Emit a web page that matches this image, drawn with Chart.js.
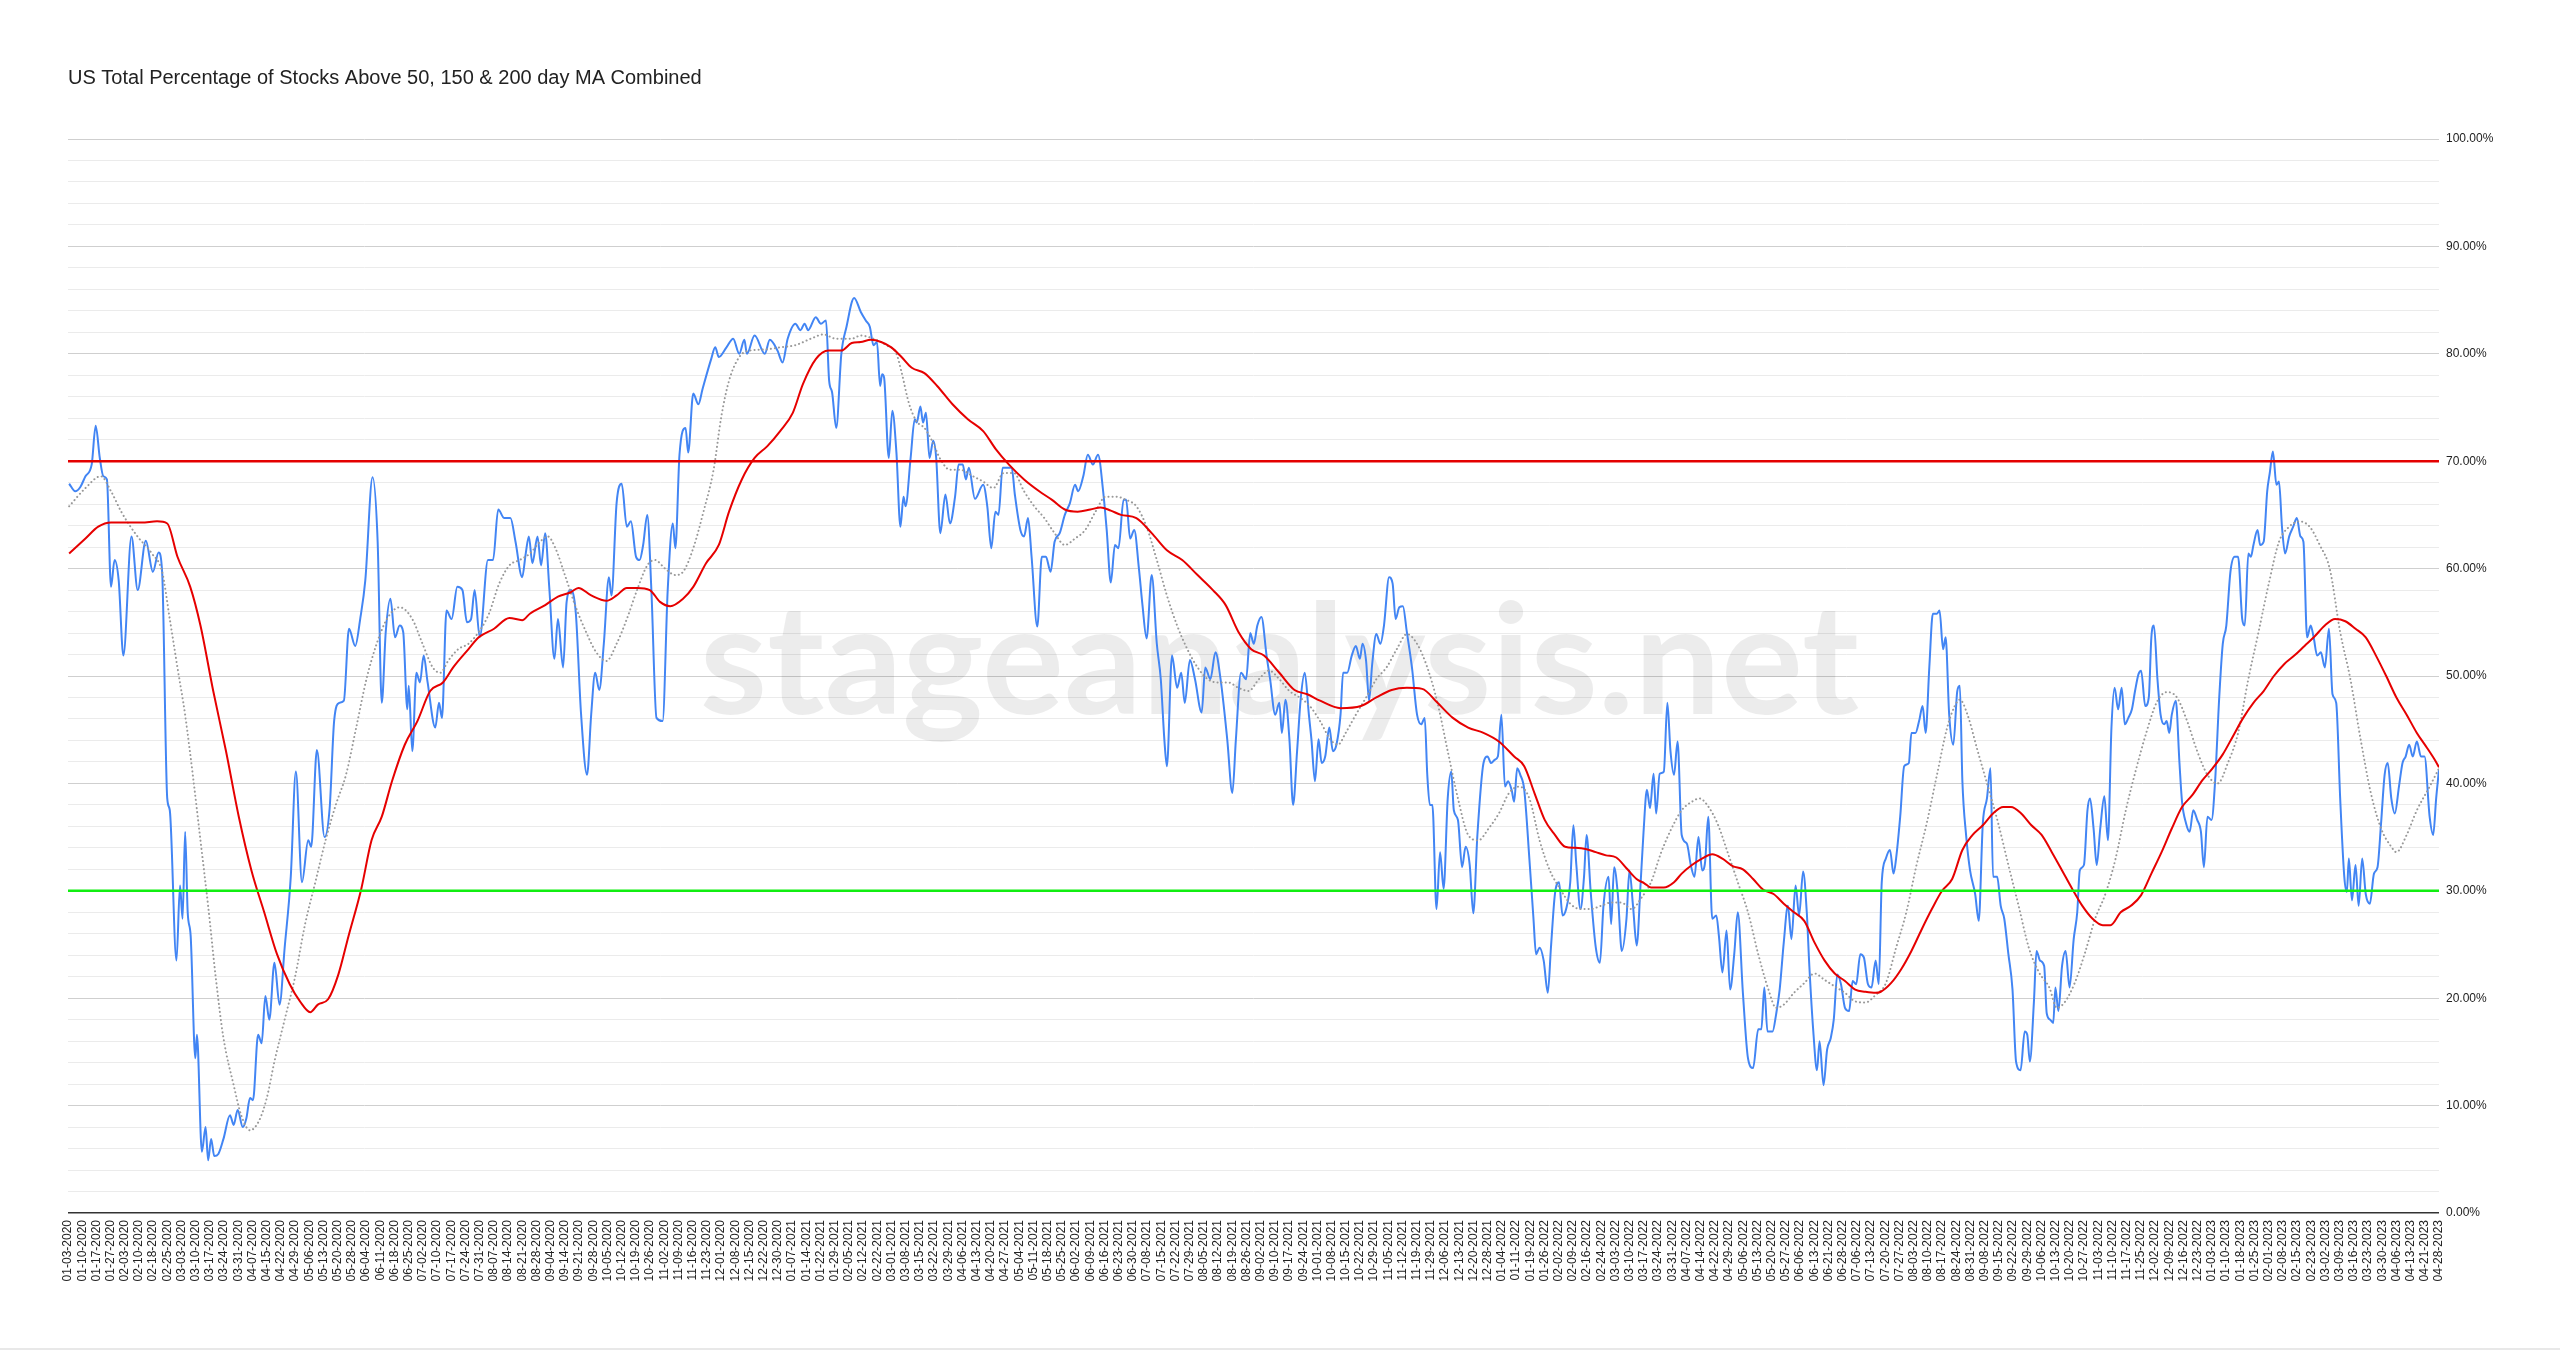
<!DOCTYPE html>
<html>
<head>
<meta charset="utf-8">
<script src="https://cdn.jsdelivr.net/npm/chart.js@4.4.0/dist/chart.umd.min.js"></script>
<style>
  body { margin: 0; background: #fff; }
  #wrap { position: relative; width: 2560px; height: 1350px; }
  #foot { position: absolute; left: 0; right: 0; bottom: 0; height: 2px; background: #e8e8e8; }
</style>
</head>
<body>
<div id="wrap">
  <canvas id="chart" width="2560" height="1350"></canvas>
  <div id="foot"></div>
</div>
<script>
// weekly axis labels (one per 5 trading days)
const weekLabels = [
  "01-03-2020","01-10-2020","01-17-2020","01-27-2020","02-03-2020","02-10-2020","02-18-2020","02-25-2020","03-03-2020","03-10-2020",
  "03-17-2020","03-24-2020","03-31-2020","04-07-2020","04-15-2020","04-22-2020","04-29-2020","05-06-2020","05-13-2020","05-20-2020",
  "05-28-2020","06-04-2020","06-11-2020","06-18-2020","06-25-2020","07-02-2020","07-10-2020","07-17-2020","07-24-2020","07-31-2020",
  "08-07-2020","08-14-2020","08-21-2020","08-28-2020","09-04-2020","09-14-2020","09-21-2020","09-28-2020","10-05-2020","10-12-2020",
  "10-19-2020","10-26-2020","11-02-2020","11-09-2020","11-16-2020","11-23-2020","12-01-2020","12-08-2020","12-15-2020","12-22-2020",
  "12-30-2020","01-07-2021","01-14-2021","01-22-2021","01-29-2021","02-05-2021","02-12-2021","02-22-2021","03-01-2021","03-08-2021",
  "03-15-2021","03-22-2021","03-29-2021","04-06-2021","04-13-2021","04-20-2021","04-27-2021","05-04-2021","05-11-2021","05-18-2021",
  "05-25-2021","06-02-2021","06-09-2021","06-16-2021","06-23-2021","06-30-2021","07-08-2021","07-15-2021","07-22-2021","07-29-2021",
  "08-05-2021","08-12-2021","08-19-2021","08-26-2021","09-02-2021","09-10-2021","09-17-2021","09-24-2021","10-01-2021","10-08-2021",
  "10-15-2021","10-22-2021","10-29-2021","11-05-2021","11-12-2021","11-19-2021","11-29-2021","12-06-2021","12-13-2021","12-20-2021",
  "12-28-2021","01-04-2022","01-11-2022","01-19-2022","01-26-2022","02-02-2022","02-09-2022","02-16-2022","02-24-2022","03-03-2022",
  "03-10-2022","03-17-2022","03-24-2022","03-31-2022","04-07-2022","04-14-2022","04-22-2022","04-29-2022","05-06-2022","05-13-2022",
  "05-20-2022","05-27-2022","06-06-2022","06-13-2022","06-21-2022","06-28-2022","07-06-2022","07-13-2022","07-20-2022","07-27-2022",
  "08-03-2022","08-10-2022","08-17-2022","08-24-2022","08-31-2022","09-08-2022","09-15-2022","09-22-2022","09-29-2022","10-06-2022",
  "10-13-2022","10-20-2022","10-27-2022","11-03-2022","11-10-2022","11-17-2022","11-25-2022","12-02-2022","12-09-2022","12-16-2022",
  "12-23-2022","01-03-2023","01-10-2023","01-18-2023","01-25-2023","02-01-2023","02-08-2023","02-15-2023","02-23-2023","03-02-2023",
  "03-09-2023","03-16-2023","03-23-2023","03-30-2023","04-06-2023","04-13-2023","04-21-2023","04-28-2023"
];

// [week position, % of stocks]
const pctAbove = [
  [0.08,67.9],[0.51,67.2],[0.87,67.6],[1.23,68.6],[1.67,69.7],[1.95,73.3],[2.24,70.3],[2.49,68.6],[2.74,68.3],[3.03,58.3],
  [3.28,60.8],[3.57,58.9],[3.9,51.9],[4.47,63.0],[4.91,58.0],[5.48,62.6],[5.98,59.7],[6.38,61.5],[6.63,59.7],[6.99,38.6],
  [7.17,37.5],[7.64,23.5],[7.89,30.5],[8.07,27.4],[8.25,35.5],[8.43,28.0],[8.64,25.8],[8.97,14.4],[9.08,16.6],[9.43,5.7],
  [9.69,8.0],[9.87,4.9],[10.08,6.9],[10.3,5.3],[10.59,5.5],[10.95,6.9],[11.41,9.1],[11.67,8.2],[11.95,9.6],[12.31,8.0],
  [12.56,8.8],[12.82,10.7],[13.03,10.5],[13.39,16.6],[13.64,15.8],[13.9,20.2],[14.18,18.0],[14.54,23.3],[14.9,19.4],[15.26,24.7],
  [15.69,31.3],[16.05,41.1],[16.48,30.8],[16.92,34.7],[17.13,34.1],[17.53,43.1],[18.07,35.0],[18.43,37.7],[18.75,45.9],[19.11,47.5],
  [19.43,47.7],[19.79,54.4],[20.23,52.8],[20.58,55.3],[20.94,58.9],[21.45,68.5],[21.81,62.5],[22.1,47.5],[22.38,54.1],[22.71,57.2],
  [23.03,53.6],[23.36,54.7],[23.61,54.1],[23.9,46.9],[24.0,49.1],[24.25,43.0],[24.54,50.3],[24.79,49.4],[25.05,51.9],[25.33,49.4],
  [25.87,45.2],[26.13,47.5],[26.34,46.1],[26.66,56.1],[27.02,55.3],[27.42,58.3],[27.78,58.0],[28.1,55.0],[28.39,55.3],[28.64,58.0],
  [29.0,53.6],[29.58,60.8],[29.94,60.8],[30.3,65.5],[30.73,64.7],[31.16,64.7],[31.52,62.5],[31.99,59.2],[32.24,61.4],[32.46,63.0],
  [32.71,60.5],[33.07,63.0],[33.32,60.3],[33.61,63.3],[33.9,58.2],[34.26,51.6],[34.51,55.3],[34.87,50.8],[35.12,56.9],[35.41,58.0],
  [35.77,55.8],[36.13,46.6],[36.56,40.8],[36.85,46.4],[37.13,50.3],[37.42,48.7],[37.74,53.0],[38.1,59.2],[38.28,57.5],[38.64,66.1],
  [39.0,67.9],[39.36,63.9],[39.65,64.4],[40.01,61.1],[40.26,60.8],[40.51,62.2],[40.8,65.0],[41.09,58.0],[41.45,46.1],[41.88,45.8],
  [42.24,58.0],[42.6,64.2],[42.78,61.9],[43.07,70.6],[43.5,73.1],[43.68,70.8],[44.04,76.3],[44.4,75.3],[44.69,76.7],[45.3,79.5],
  [45.59,80.6],[45.84,79.7],[46.38,80.6],[46.85,81.4],[47.28,80.0],[47.64,81.3],[47.82,80.0],[48.36,81.7],[49.08,80.0],[49.43,81.3],
  [49.97,80.3],[50.33,79.2],[50.69,81.4],[51.23,82.8],[51.59,82.2],[51.88,82.8],[52.13,82.2],[52.67,83.4],[53.03,82.8],[53.39,83.1],
  [53.61,77.5],[53.82,76.4],[54.11,73.1],[54.47,80.0],[54.83,82.5],[55.37,85.2],[55.84,83.9],[56.19,83.1],[56.48,82.5],[56.73,80.8],
  [56.98,81.1],[57.2,77.0],[57.34,78.1],[57.48,77.8],[57.81,70.3],[58.06,74.7],[58.35,70.8],[58.63,63.9],[58.85,66.7],[58.99,65.8],
  [59.35,70.3],[59.64,73.9],[59.78,73.6],[60.04,75.1],[60.22,73.6],[60.43,74.5],[60.68,70.3],[60.94,71.9],[61.15,70.3],[61.44,63.3],
  [61.8,66.9],[62.12,64.2],[62.48,66.7],[62.73,69.7],[63.02,69.7],[63.24,68.3],[63.45,69.4],[63.88,66.5],[64.46,67.8],[64.75,65.8],
  [65.03,61.9],[65.32,65.3],[65.54,65.0],[65.83,69.4],[66.19,69.4],[66.47,69.4],[66.69,66.9],[67.08,63.6],[67.34,63.0],[67.62,64.7],
  [67.87,61.1],[68.27,54.6],[68.59,61.1],[68.88,61.1],[69.21,59.7],[69.49,62.5],[69.85,63.3],[70.21,65.0],[70.57,66.1],[70.93,67.8],
  [71.15,67.2],[71.51,68.6],[71.83,70.6],[72.19,69.7],[72.55,70.6],[72.91,67.2],[73.16,63.6],[73.45,58.7],[73.74,62.2],[73.99,61.9],
  [74.35,66.4],[74.53,66.4],[74.81,62.8],[75.1,63.6],[75.43,60.0],[75.68,56.6],[75.97,53.5],[76.33,59.4],[76.69,53.0],[76.97,49.7],
  [77.22,44.1],[77.4,41.6],[77.76,51.9],[78.12,48.9],[78.41,50.3],[78.66,47.5],[79.02,51.5],[79.38,49.7],[79.85,46.6],[80.1,50.8],
  [80.46,49.7],[80.82,52.2],[81.18,49.7],[81.65,44.1],[82.01,39.1],[82.26,44.1],[82.62,50.3],[82.98,49.7],[83.27,54.0],[83.52,53.0],
  [83.77,54.7],[84.06,55.5],[84.42,51.9],[84.67,49.7],[85.03,46.4],[85.32,47.5],[85.5,44.7],[85.75,47.8],[86.03,44.1],[86.29,38.0],
  [86.57,43.0],[86.82,47.8],[87.11,50.3],[87.4,46.4],[87.58,44.1],[87.83,40.2],[88.08,44.1],[88.3,41.9],[88.55,42.5],[88.84,45.2],
  [89.09,43.0],[89.34,43.6],[89.63,46.4],[89.81,50.3],[90.1,50.3],[90.42,51.9],[90.71,52.8],[90.99,51.6],[91.18,53.0],[91.43,51.4],
  [91.64,47.7],[91.86,51.1],[92.15,53.9],[92.44,53.0],[92.69,54.7],[93.05,59.2],[93.3,58.6],[93.51,55.3],[93.77,56.4],[94.02,56.5],
  [94.3,54.1],[94.66,50.8],[95.02,46.4],[95.31,45.5],[95.56,46.1],[95.74,40.8],[95.92,38.0],[96.1,38.0],[96.39,28.3],[96.64,33.6],
  [96.89,30.2],[97.18,38.6],[97.43,41.1],[97.61,37.5],[97.9,36.6],[98.19,32.2],[98.44,34.1],[98.73,32.4],[98.98,27.9],[99.27,35.2],
  [99.7,41.9],[99.98,42.5],[100.24,41.9],[100.49,42.2],[100.71,42.5],[100.96,46.4],[101.21,39.7],[101.43,40.2],[101.68,39.4],[101.86,38.3],
  [102.07,41.4],[102.29,40.8],[102.57,39.4],[102.93,33.0],[103.22,27.4],[103.4,24.1],[103.65,24.7],[103.94,23.5],[104.23,20.5],[104.45,24.7],
  [104.73,29.7],[105.02,30.8],[105.27,27.7],[105.52,28.3],[105.81,30.8],[106.03,36.1],[106.24,32.4],[106.53,28.3],[106.78,31.3],[106.96,35.2],
  [107.25,29.9],[107.61,24.7],[107.9,23.3],[108.15,28.6],[108.51,31.3],[108.69,26.9],[108.9,32.2],[109.16,29.7],[109.44,24.4],[109.77,27.4],
  [109.98,31.9],[110.23,28.6],[110.49,24.9],[110.77,30.8],[110.96,35.2],[111.21,39.4],[111.43,37.7],[111.68,40.9],[111.86,37.2],[112.11,40.9],
  [112.4,41.1],[112.65,47.5],[112.87,43.0],[113.12,40.8],[113.37,43.9],[113.66,35.2],[114.02,34.4],[114.3,32.4],[114.56,31.3],[114.84,35.0],
  [115.1,31.9],[115.31,32.7],[115.53,36.9],[115.81,27.4],[116.1,27.7],[116.28,25.8],[116.53,22.4],[116.82,26.3],[117.07,20.8],[117.36,24.1],
  [117.61,28.0],[117.97,20.5],[118.33,14.4],[118.69,13.5],[119.05,17.1],[119.27,17.1],[119.48,21.0],[119.7,16.9],[120.06,16.9],[120.31,18.5],
  [120.56,20.8],[120.85,25.2],[121.14,28.6],[121.39,25.5],[121.68,30.5],[121.93,27.7],[122.21,31.8],[122.47,28.0],[122.65,23.0],[122.93,16.9],
  [123.19,13.3],[123.37,16.0],[123.65,11.9],[123.9,15.2],[124.16,16.3],[124.37,18.0],[124.62,22.2],[124.88,21.3],[125.16,19.1],[125.45,18.8],
  [125.7,21.6],[125.95,21.3],[126.24,24.1],[126.49,23.8],[126.78,21.3],[127.03,21.0],[127.32,23.5],[127.54,21.3],[127.75,30.8],[128.04,33.0],
  [128.33,33.8],[128.58,31.6],[128.76,33.0],[129.05,36.9],[129.33,41.6],[129.66,41.9],[129.84,44.7],[130.13,44.7],[130.38,45.8],[130.63,47.2],
  [130.84,44.7],[131.1,50.8],[131.35,55.8],[131.64,55.8],[131.82,56.1],[132.07,52.5],[132.25,53.6],[132.5,46.4],[132.79,43.6],[133.07,48.6],
  [133.25,49.1],[133.43,40.2],[133.69,35.2],[133.97,31.9],[134.33,29.7],[134.58,27.2],[134.87,36.3],[135.16,38.6],[135.41,41.4],[135.59,31.3],
  [135.88,31.3],[136.13,28.6],[136.38,27.4],[136.67,24.1],[136.96,20.8],[137.21,14.1],[137.53,13.3],[137.82,16.9],[138.0,16.6],[138.18,14.1],
  [138.47,19.7],[138.65,24.4],[138.9,23.5],[139.19,23.0],[139.37,18.6],[139.62,18.0],[139.83,17.7],[139.98,21.0],[140.19,18.8],[140.45,23.0],
  [140.7,24.4],[140.98,21.0],[141.27,25.5],[141.52,28.0],[141.7,31.9],[141.99,32.4],[142.24,37.5],[142.42,38.6],[142.67,35.8],[142.89,32.4],
  [143.14,35.8],[143.43,38.8],[143.68,34.7],[143.93,45.2],[144.15,48.9],[144.4,46.9],[144.65,48.9],[144.87,45.5],[145.12,46.1],[145.37,46.9],
  [145.59,48.6],[145.84,50.2],[146.02,50.5],[146.31,47.2],[146.56,48.0],[146.74,53.6],[146.92,54.7],[147.17,49.7],[147.39,46.4],[147.64,45.5],
  [147.82,45.8],[148.0,44.7],[148.18,46.4],[148.46,47.7],[148.72,41.9],[148.9,38.3],[149.18,36.3],[149.44,35.5],[149.69,37.5],[149.97,36.6],
  [150.23,35.5],[150.44,32.2],[150.69,36.9],[150.98,36.6],[151.23,40.2],[151.52,48.0],[151.77,53.0],[152.02,54.7],[152.31,59.7],[152.6,61.1],
  [152.85,61.1],[153.14,55.3],[153.32,54.7],[153.57,61.4],[153.75,61.1],[153.93,62.2],[154.22,63.6],[154.4,62.2],[154.65,62.5],[154.9,67.2],
  [155.08,68.9],[155.3,70.9],[155.55,67.8],[155.73,68.1],[155.94,63.9],[156.16,61.4],[156.45,63.0],[156.73,63.9],[156.99,64.7],[157.24,63.0],
  [157.45,62.5],[157.71,53.6],[157.96,54.7],[158.17,53.6],[158.42,51.9],[158.68,52.2],[158.96,50.8],[159.25,54.4],[159.5,48.3],[159.76,47.5],
  [160.04,38.6],[160.33,31.3],[160.51,29.9],[160.65,33.0],[160.87,29.1],[161.12,32.4],[161.34,28.6],[161.59,33.0],[161.84,29.7],[162.13,28.8],
  [162.42,31.6],[162.67,32.2],[162.92,36.3],[163.17,40.8],[163.39,41.9],[163.64,38.6],[163.89,37.2],[164.18,39.7],[164.43,41.9],[164.65,42.5],
  [164.9,43.6],[165.15,42.5],[165.44,43.9],[165.73,42.5],[165.98,42.5],[166.34,36.9],[166.59,35.2],[166.8,38.6],[167,41.3]
];

// grey dotted (short moving average)
const shortMA = [
  [0.08,65.8],[1.23,67.5],[2.31,68.6],[3.03,67.2],[3.75,65.3],[4.83,63.1],[5.91,61.4],[6.63,59.7],[7.17,55.3],[7.71,50.8],
  [8.25,46.4],[8.79,40.8],[9.33,34.7],[9.87,28.6],[10.41,21.9],[10.95,16.3],[11.67,11.9],[12.2,9.1],[12.82,7.7],[13.46,8.6],
  [14.0,10.7],[14.54,14.1],[15.26,18.0],[15.98,21.9],[16.7,26.9],[17.42,30.8],[18.14,34.7],[18.86,38.0],[19.58,40.8],[20.3,45.2],
  [21.02,49.7],[21.74,53.0],[22.46,55.3],[23.36,56.4],[24.25,55.3],[24.97,53.0],[25.69,50.8],[26.23,50.3],[26.77,51.4],[27.49,52.5],
  [28.21,53.0],[28.93,54.1],[29.65,55.8],[30.37,58.6],[31.09,60.3],[31.81,60.8],[32.53,61.4],[33.25,62.5],[33.79,63.0],[34.33,61.9],
  [35.05,59.2],[35.77,56.4],[36.49,54.1],[37.21,52.2],[37.93,51.4],[38.64,53.0],[39.36,55.3],[40.08,58.0],[40.8,60.3],[41.34,60.8],
  [42.06,60.0],[42.78,59.4],[43.32,59.7],[44.04,61.9],[44.76,65.3],[45.47,69.2],[46.02,74.2],[46.56,77.5],[47.28,79.7],[48.0,80.3],
  [49.08,80.4],[50.16,80.6],[51.23,80.8],[52.31,81.4],[53.21,81.8],[54.11,81.4],[55.19,81.4],[55.83,81.7],[56.73,81.4],[57.63,80.8],
  [58.35,80.0],[58.71,78.3],[59.25,75.3],[59.78,73.7],[60.32,73.1],[60.86,71.9],[61.4,70.3],[62.12,69.2],[62.84,69.2],[63.74,68.6],
  [64.46,68.1],[65.18,67.5],[65.9,68.9],[66.62,68.9],[67.34,67.2],[68.06,65.8],[68.77,64.7],[69.49,63.3],[70.21,62.2],[70.93,62.8],
  [71.65,63.6],[72.37,65.3],[73.09,66.7],[73.81,66.7],[74.53,66.4],[75.25,65.8],[75.97,63.9],[76.69,60.8],[77.4,57.5],[78.12,54.7],
  [78.84,52.5],[79.56,50.8],[80.28,49.7],[81.0,49.4],[81.72,49.4],[82.44,48.9],[83.16,48.6],[83.88,49.7],[84.6,50.5],[85.32,49.7],
  [86.03,48.6],[86.75,48.0],[87.47,47.2],[88.19,45.8],[88.91,44.1],[89.45,43.6],[89.99,44.7],[90.71,46.4],[91.43,48.0],[92.15,49.7],
  [92.87,50.8],[93.59,52.5],[94.3,53.9],[95.02,53.0],[95.74,50.8],[96.46,47.5],[97.18,43.0],[97.9,38.6],[98.62,35.2],[99.34,34.7],
  [100.06,35.8],[100.78,37.2],[101.5,39.1],[102.22,39.7],[102.93,38.6],[103.65,34.7],[104.37,31.9],[105.09,30.2],[105.81,28.8],[106.53,28.3],
  [107.25,28.3],[107.97,28.6],[108.69,28.9],[109.41,28.9],[110.13,28.3],[110.85,29.4],[111.5,30.8],[112.22,33.6],[112.94,35.8],[113.66,37.5],
  [114.38,38.3],[114.92,38.6],[115.45,38.0],[116.17,36.3],[116.89,33.6],[117.61,30.8],[118.33,28.0],[119.05,24.1],[119.77,20.8],[120.31,19.1],
  [120.85,19.4],[121.57,20.5],[122.29,21.4],[123.01,22.3],[123.73,21.7],[124.44,21.1],[125.16,20.5],[125.88,19.7],[126.6,19.6],[127.32,20.3],
  [128.04,21.4],[128.76,24.7],[129.48,28.0],[130.2,32.4],[130.92,36.3],[131.64,40.8],[132.36,45.2],[132.89,47.2],[133.25,47.8],[133.79,46.4],
  [134.51,43.0],[135.23,39.7],[135.95,36.3],[136.67,32.4],[137.39,28.6],[138.11,24.7],[138.83,22.4],[139.55,21.0],[140.09,19.1],[140.62,19.6],
  [141.34,21.4],[142.06,24.2],[142.78,27.4],[143.5,29.7],[144.22,33.0],[144.94,37.5],[145.66,41.3],[146.38,44.7],[147.1,47.5],[147.82,48.5],
  [148.54,48.0],[149.26,45.8],[149.97,43.0],[150.69,40.8],[151.41,40.0],[152.13,41.9],[152.85,44.7],[153.57,49.7],[154.29,54.1],[155.01,58.6],
  [155.73,62.5],[156.45,63.9],[157.17,64.4],[157.89,63.9],[158.6,62.2],[159.32,59.9],[160.04,54.1],[160.76,49.7],[161.48,44.1],[162.2,39.1],
  [162.92,35.8],[163.64,34.1],[164.0,33.6],[164.72,35.2],[165.44,37.5],[166.34,39.7],[167,41.4]
];

// red (long moving average)
const longMA = [
  [0.08,61.4],[1.23,62.8],[2.13,63.9],[3.03,64.3],[4.11,64.3],[5.19,64.3],[6.27,64.4],[6.99,64.2],[7.71,61.1],[8.61,58.3],
  [9.33,54.7],[10.23,48.6],[11.13,43.0],[12.03,36.9],[12.92,31.9],[13.82,28.0],[14.72,24.1],[15.62,21.3],[16.34,19.7],[17.06,18.7],
  [17.6,19.4],[18.32,19.9],[19.04,22.2],[19.76,25.8],[20.66,30.2],[21.38,34.7],[22.1,36.9],[22.82,40.2],[23.72,43.6],[24.61,45.8],
  [25.51,48.6],[26.41,49.4],[27.13,50.8],[28.21,52.5],[28.93,53.6],[30.01,54.4],[31.09,55.4],[31.99,55.2],[32.53,55.8],[33.61,56.6],
  [34.51,57.4],[35.41,57.8],[35.95,58.2],[36.85,57.5],[37.93,57.0],[38.64,57.5],[39.36,58.2],[40.08,58.2],[40.98,58.0],[41.7,56.9],
  [42.42,56.5],[43.32,57.2],[44.04,58.3],[44.94,60.5],[45.84,62.2],[46.56,65.3],[47.46,68.3],[48.36,70.3],[49.26,71.4],[50.16,72.8],
  [51.05,74.5],[51.77,77.2],[52.67,79.5],[53.57,80.3],[54.47,80.3],[55.2,81.0],[55.83,81.1],[56.55,81.3],[57.27,81.1],[57.99,80.6],
  [58.71,79.7],[59.43,78.7],[60.32,78.2],[61.22,77.0],[62.3,75.3],[63.38,73.9],[64.46,72.8],[65.36,71.1],[66.26,69.7],[67.34,68.3],
  [68.41,67.2],[69.31,66.4],[70.21,65.5],[71.11,65.3],[72.01,65.5],[72.73,65.7],[73.45,65.4],[74.17,65.0],[75.25,64.7],[76.33,63.3],
  [77.4,61.7],[78.48,60.8],[79.56,59.4],[80.64,58.0],[81.54,56.6],[82.44,54.1],[83.34,52.5],[84.24,51.9],[85.32,50.3],[86.39,48.7],
  [87.29,48.3],[88.19,47.7],[89.63,47.0],[91.07,47.2],[92.15,48.0],[93.23,48.7],[94.3,48.9],[95.38,48.8],[96.46,47.5],[97.54,46.1],
  [98.62,45.2],[99.7,44.7],[100.78,43.9],[101.86,42.5],[102.57,41.6],[103.29,39.1],[104.01,36.6],[104.73,35.2],[105.45,34.1],[106.17,34.0],
  [106.89,33.9],[107.61,33.6],[108.33,33.3],[109.05,33.1],[109.77,32.1],[110.48,31.1],[111.03,30.7],[111.5,30.3],[112.4,30.3],[113.12,30.8],
  [113.66,31.6],[114.38,32.4],[115.09,33.0],[115.81,33.4],[116.53,33.0],[117.25,32.3],[117.97,32.0],[118.69,31.1],[119.41,30.1],[120.13,29.7],
  [120.85,28.8],[121.57,28.0],[122.29,27.2],[123.01,25.2],[123.73,23.5],[124.44,22.3],[125.16,21.6],[125.88,20.8],[126.6,20.6],[127.32,20.5],
  [127.68,20.6],[128.4,21.4],[129.12,22.7],[129.84,24.4],[130.56,26.4],[131.28,28.3],[132.0,30.0],[132.71,31.1],[133.43,33.8],[134.15,35.2],
  [134.87,36.1],[135.59,37.2],[136.31,37.8],[136.85,37.8],[137.57,37.2],[138.29,36.1],[139.01,35.2],[139.73,33.6],[140.45,31.9],[141.16,30.2],
  [141.88,28.6],[142.6,27.4],[143.32,26.8],[143.86,26.8],[144.58,28.0],[145.3,28.6],[146.02,29.6],[146.74,31.6],[147.46,33.6],[148.18,35.8],
  [148.9,37.8],[149.62,38.9],[150.34,40.3],[151.05,41.4],[151.77,42.7],[152.49,44.4],[153.21,46.1],[153.93,47.5],[154.65,48.6],[155.37,50.0],
  [156.09,51.1],[156.81,51.9],[157.53,52.8],[158.25,53.7],[158.96,54.7],[159.68,55.3],[160.4,55.1],[161.12,54.4],[161.84,53.6],[162.56,51.9],
  [163.28,50.0],[164.0,48.0],[164.72,46.4],[165.44,44.7],[166.16,43.3],[166.7,42.2],[167,41.5]
];

const upperLevel = 70;
const lowerLevel = 30;

const toPoints = (arr) => arr.map(([x, y]) => ({ x, y }));
const lastWeek = weekLabels.length - 1;
const flat = (v) => [{ x: 0, y: v }, { x: lastWeek, y: v }];

Chart.defaults.font.family = '"Liberation Sans", Arial, Helvetica, sans-serif';
Chart.defaults.color = '#222';

// faint site watermark behind the lines
const watermark = {
  id: 'watermark',
  beforeDatasetsDraw(chart) {
    const { ctx, chartArea: a } = chart;
    const w = a.right - a.left, h = a.bottom - a.top;
    const text = 'stageanalysis.net';
    ctx.save();
    ctx.font = 'bold 100px Lato, "Open Sans", sans-serif';
    const size = 100 * (w * 0.489) / ctx.measureText(text).width;
    ctx.font = 'bold ' + size + 'px Lato, "Open Sans", sans-serif';
    ctx.fillStyle = 'rgba(0,0,0,0.075)';
    ctx.textBaseline = 'alphabetic';
    ctx.fillText(text, a.left + w * 0.2665, a.top + h * 0.535);
    ctx.restore();
  }
};

new Chart(document.getElementById('chart'), {
  type: 'line',
  data: {
    datasets: [
      {
        data: toPoints(pctAbove),
        borderColor: '#4285f4',
        borderWidth: 2,
        cubicInterpolationMode: 'monotone',
        order: 5
      },
      {
        data: toPoints(shortMA),
        borderColor: '#999999',
        borderWidth: 2,
        borderDash: [0.1, 4],
        borderCapStyle: 'round',
        cubicInterpolationMode: 'monotone',
        order: 4
      },
      {
        data: toPoints(longMA),
        borderColor: '#e60000',
        borderWidth: 2,
        cubicInterpolationMode: 'monotone',
        order: 3
      },
      {
        data: flat(upperLevel),
        borderColor: '#e40000',
        borderWidth: 2.5,
        order: 2
      },
      {
        data: flat(lowerLevel),
        borderColor: '#11ee11',
        borderWidth: 2.5,
        order: 1
      }
    ]
  },
  options: {
    responsive: false,
    animation: false,
    devicePixelRatio: 1,
    elements: { point: { radius: 0 } },
    layout: { padding: { left: 68, right: 0, top: 0, bottom: 0 } },
    plugins: {
      legend: { display: false },
      tooltip: { enabled: false },
      title: {
        display: true,
        text: 'US Total Percentage of Stocks Above 50, 150 & 200 day MA Combined',
        align: 'start',
        color: '#222',
        font: { size: 20, weight: 'normal' },
        padding: { top: 66, bottom: 49 }
      }
    },
    scales: {
      x: {
        type: 'linear',
        min: 0,
        max: lastWeek,
        grid: { display: false, drawTicks: false },
        border: { display: false },
        ticks: {
          stepSize: 1,
          autoSkip: false,
          maxRotation: 90,
          minRotation: 90,
          padding: 7,
          color: '#222',
          font: { size: 12 },
          callback: (v) => weekLabels[v] ?? ''
        },
        afterFit: (s) => { s.height = 137; }
      },
      y: {
        position: 'right',
        min: 0,
        max: 100,
        grid: {
          drawTicks: false,
          color: (c) => c.tick.value === 0 ? '#333' : (c.tick.value % 10 === 0 ? '#cfcfcf' : '#ebebeb'),
          lineWidth: (c) => c.tick.value === 0 ? 1.5 : 1
        },
        border: { display: false },
        ticks: {
          stepSize: 2,
          autoSkip: false,
          padding: 7,
          color: '#222',
          font: { size: 12 },
          callback: (v) => v % 10 === 0 ? v.toFixed(2) + '%' : ''
        },
        afterFit: (s) => { s.width = 121; }
      }
    }
  },
  plugins: [watermark]
});
</script>
</body>
</html>
